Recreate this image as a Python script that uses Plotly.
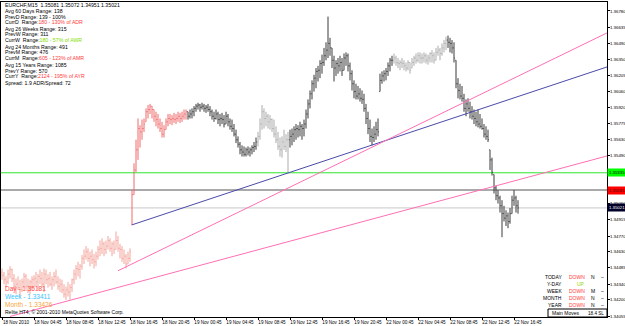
import plotly.graph_objects as go

# ---------------- data ----------------
header_text = "EURCHF,M15  1.35081 1.35072 1.34951 1.35021"

time_label_bars = [0, 16, 32, 48, 64, 80, 96, 112, 128, 144, 160, 176, 192, 208, 224, 240, 256]
time_labels = ["18 Nov 2010", "18 Nov 04:45", "18 Nov 08:45", "18 Nov 12:45", "18 Nov 16:45",
               "18 Nov 20:45", "19 Nov 00:45", "19 Nov 04:45", "19 Nov 08:45", "19 Nov 12:45",
               "19 Nov 16:45", "19 Nov 20:45", "22 Nov 00:45", "22 Nov 04:45", "22 Nov 08:45",
               "22 Nov 12:45", "22 Nov 16:45"]

price_ticks = [1.36780, 1.36635, 1.36490, 1.36350, 1.36205, 1.36060, 1.35920, 1.35775, 1.35630,
               1.35490, 1.35060, 1.34915, 1.34770, 1.34630, 1.34485, 1.34340,
               1.34200, 1.34055]

first_open = 1.3444
highs = [
    1.3448, 1.3445, 1.3441, 1.3447, 1.3450, 1.3448, 1.3443, 1.3439, 1.3441, 1.3438,
    1.3439, 1.3444, 1.3443, 1.3439, 1.3438, 1.3441, 1.3442, 1.3445, 1.3443, 1.3447,
    1.3445, 1.3448, 1.3447, 1.3443, 1.3445, 1.3441, 1.3445, 1.3447, 1.3441, 1.3439,
    1.3438, 1.3434, 1.3432, 1.3436, 1.3434, 1.3439, 1.3447, 1.3451, 1.3454, 1.3452,
    1.3460, 1.3465, 1.3468, 1.3466, 1.3463, 1.3465, 1.3461, 1.3463, 1.3468, 1.3473,
    1.3475, 1.3472, 1.3473, 1.3477, 1.3475, 1.3472, 1.3473, 1.3481, 1.3477, 1.3470,
    1.3468, 1.3465, 1.3461, 1.3463, 1.3466,
    1.3518, 1.3542, 1.3563, 1.3582, 1.3576, 1.3581, 1.3582, 1.3591, 1.3594, 1.3595,
    1.3593, 1.3590, 1.3588, 1.3586, 1.3582, 1.3579, 1.3576, 1.3582, 1.3586, 1.3586,
    1.3585, 1.3587, 1.3586, 1.3588, 1.3587, 1.3588, 1.3590, 1.3590,
    1.3588, 1.3590, 1.3591, 1.3593, 1.3595, 1.3596, 1.3595, 1.3596, 1.3595, 1.3594,
    1.3595, 1.3593, 1.3590, 1.3588, 1.3590, 1.3588, 1.3586, 1.3587, 1.3585, 1.3588,
    1.3586, 1.3582, 1.3581, 1.3577, 1.3572, 1.3566, 1.3561, 1.3558, 1.3557, 1.3556,
    1.3557, 1.3556, 1.3558, 1.3561, 1.3565, 1.3570, 1.3582, 1.3594, 1.3591, 1.3588,
    1.3586, 1.3585, 1.3582, 1.3581, 1.3575, 1.3570, 1.3565, 1.3566, 1.3572, 1.3568,
    1.3570, 1.3572, 1.3573, 1.3575, 1.3577, 1.3576, 1.3579, 1.3577, 1.3581, 1.3590,
    1.3599, 1.3607, 1.3616, 1.3621, 1.3627, 1.3629, 1.3634, 1.3639, 1.3645, 1.3650,
    1.3673, 1.3654, 1.3645, 1.3638, 1.3634, 1.3636, 1.3638, 1.3636, 1.3640, 1.3641,
    1.3640, 1.3632, 1.3625, 1.3616, 1.3613, 1.3611, 1.3609, 1.3607, 1.3604, 1.3595,
    1.3588, 1.3581, 1.3573, 1.3575, 1.3579, 1.3582,
    1.3622, 1.3624, 1.3625, 1.3627, 1.3632, 1.3636, 1.3638, 1.3640, 1.3638, 1.3636,
    1.3634, 1.3636, 1.3634, 1.3632, 1.3634, 1.3632, 1.3636, 1.3638, 1.3640, 1.3641,
    1.3641, 1.3640, 1.3641, 1.3640, 1.3639, 1.3641, 1.3643, 1.3641, 1.3645, 1.3647,
    1.3645, 1.3649, 1.3652, 1.3655, 1.3656, 1.3654, 1.3652, 1.3650, 1.3634, 1.3618,
    1.3613, 1.3611, 1.3604, 1.3599, 1.3600, 1.3597, 1.3593, 1.3590, 1.3588, 1.3590,
    1.3586, 1.3582, 1.3577, 1.3575, 1.3572, 1.3554, 1.3547, 1.3532, 1.3522, 1.3518,
    1.3513, 1.3509, 1.3504, 1.3500, 1.3498, 1.3502, 1.3513, 1.3518, 1.3513, 1.3509,
]
lows = [
    1.3438, 1.3434, 1.3431, 1.3434, 1.3439, 1.3436, 1.3429, 1.3425, 1.3429, 1.3423,
    1.3427, 1.3431, 1.3429, 1.3426, 1.3425, 1.3429, 1.3431, 1.3432, 1.3429, 1.3434,
    1.3431, 1.3427, 1.3434, 1.3431, 1.3432, 1.3429, 1.3432, 1.3434, 1.3429, 1.3427,
    1.3426, 1.3422, 1.3420, 1.3423, 1.3420, 1.3427, 1.3434, 1.3438, 1.3441, 1.3439,
    1.3447, 1.3452, 1.3456, 1.3454, 1.3450, 1.3452, 1.3448, 1.3450, 1.3456, 1.3459,
    1.3461, 1.3459, 1.3461, 1.3465, 1.3463, 1.3459, 1.3461, 1.3465, 1.3463, 1.3457,
    1.3454, 1.3452, 1.3448, 1.3452, 1.3454,
    1.3487, 1.3514, 1.3534, 1.3545, 1.3556, 1.3563, 1.3570, 1.3579, 1.3582, 1.3586,
    1.3582, 1.3579, 1.3575, 1.3573, 1.3570, 1.3565, 1.3565, 1.3572, 1.3575, 1.3577,
    1.3576, 1.3578, 1.3577, 1.3579, 1.3578, 1.3579, 1.3581, 1.3581,
    1.3581, 1.3582, 1.3582, 1.3584, 1.3588, 1.3590, 1.3588, 1.3590, 1.3588, 1.3587,
    1.3588, 1.3584, 1.3581, 1.3579, 1.3581, 1.3577, 1.3575, 1.3577, 1.3574, 1.3577,
    1.3575, 1.3572, 1.3570, 1.3566, 1.3560, 1.3556, 1.3550, 1.3548, 1.3548, 1.3548,
    1.3549, 1.3548, 1.3550, 1.3552, 1.3554, 1.3557, 1.3563, 1.3572, 1.3573, 1.3575,
    1.3573, 1.3572, 1.3570, 1.3565, 1.3560, 1.3554, 1.3548, 1.3547, 1.3554, 1.3552,
    1.3533, 1.3556, 1.3558, 1.3561, 1.3563, 1.3565, 1.3566, 1.3563, 1.3566, 1.3573,
    1.3582, 1.3591, 1.3599, 1.3606, 1.3609, 1.3615, 1.3618, 1.3622, 1.3629, 1.3634,
    1.3636, 1.3638, 1.3627, 1.3615, 1.3620, 1.3622, 1.3624, 1.3620, 1.3625, 1.3629,
    1.3624, 1.3616, 1.3607, 1.3600, 1.3599, 1.3599, 1.3597, 1.3595, 1.3588, 1.3577,
    1.3568, 1.3561, 1.3558, 1.3561, 1.3563, 1.3566,
    1.3606, 1.3613, 1.3615, 1.3616, 1.3620, 1.3624, 1.3629, 1.3631, 1.3629, 1.3627,
    1.3625, 1.3627, 1.3625, 1.3624, 1.3625, 1.3622, 1.3627, 1.3629, 1.3631, 1.3632,
    1.3631, 1.3631, 1.3632, 1.3631, 1.3630, 1.3632, 1.3632, 1.3631, 1.3634, 1.3638,
    1.3634, 1.3638, 1.3641, 1.3643, 1.3645, 1.3641, 1.3640, 1.3632, 1.3609, 1.3600,
    1.3599, 1.3597, 1.3588, 1.3584, 1.3588, 1.3582, 1.3581, 1.3577, 1.3575, 1.3574,
    1.3573, 1.3572, 1.3565, 1.3563, 1.3561, 1.3536, 1.3531, 1.3515, 1.3509, 1.3506,
    1.3498, 1.3476, 1.3490, 1.3486, 1.3484, 1.3488, 1.3497, 1.3504, 1.3498, 1.3497,
]
closes = [
    1.3442, 1.3438, 1.3436, 1.3443, 1.3447, 1.3439, 1.3432, 1.3434, 1.3431, 1.3429,
    1.3436, 1.3441, 1.3432, 1.3431, 1.3436, 1.3438, 1.3439, 1.3436, 1.3441, 1.3439,
    1.3434, 1.3443, 1.3438, 1.3439, 1.3434, 1.3438, 1.3441, 1.3436, 1.3432, 1.3434,
    1.3429, 1.3425, 1.3429, 1.3427, 1.3431, 1.3438, 1.3443, 1.3448, 1.3447, 1.3450,
    1.3457, 1.3459, 1.3463, 1.3457, 1.3459, 1.3456, 1.3454, 1.3459, 1.3465, 1.3466,
    1.3470, 1.3465, 1.3468, 1.3473, 1.3466, 1.3470, 1.3465, 1.3473, 1.3466, 1.3465,
    1.3457, 1.3459, 1.3452, 1.3457, 1.3463,
    1.3514, 1.3536, 1.3554, 1.3573, 1.3570, 1.3573, 1.3577, 1.3588, 1.3590, 1.3593,
    1.3590, 1.3584, 1.3581, 1.3577, 1.3573, 1.3568, 1.3572, 1.3579, 1.3582, 1.3581,
    1.3582, 1.3581, 1.3582, 1.3584, 1.3582, 1.3584, 1.3586, 1.3588,
    1.3584, 1.3586, 1.3588, 1.3591, 1.3593, 1.3594, 1.3592, 1.3593, 1.3591, 1.3592,
    1.3590, 1.3588, 1.3584, 1.3582, 1.3586, 1.3581, 1.3582, 1.3581, 1.3577, 1.3584,
    1.3579, 1.3575, 1.3573, 1.3568, 1.3563, 1.3559, 1.3554, 1.3552, 1.3550, 1.3554,
    1.3552, 1.3554, 1.3556, 1.3557, 1.3561, 1.3566, 1.3577, 1.3588, 1.3582, 1.3584,
    1.3579, 1.3581, 1.3573, 1.3568, 1.3563, 1.3557, 1.3554, 1.3561, 1.3557, 1.3563,
    1.3563, 1.3566, 1.3568, 1.3572, 1.3573, 1.3572, 1.3575, 1.3573, 1.3577, 1.3586,
    1.3595, 1.3604, 1.3613, 1.3618, 1.3624, 1.3625, 1.3631, 1.3632, 1.3638, 1.3643,
    1.3649, 1.3645, 1.3634, 1.3627, 1.3631, 1.3629, 1.3632, 1.3625, 1.3636, 1.3638,
    1.3629, 1.3622, 1.3613, 1.3606, 1.3602, 1.3604, 1.3600, 1.3599, 1.3591, 1.3582,
    1.3573, 1.3566, 1.3565, 1.3568, 1.3572, 1.3570,
    1.3616, 1.3620, 1.3622, 1.3624, 1.3629, 1.3634, 1.3634, 1.3636, 1.3632, 1.3631,
    1.3632, 1.3631, 1.3629, 1.3627, 1.3632, 1.3625, 1.3632, 1.3636, 1.3634, 1.3638,
    1.3636, 1.3636, 1.3638, 1.3634, 1.3636, 1.3640, 1.3638, 1.3634, 1.3641, 1.3643,
    1.3640, 1.3645, 1.3649, 1.3652, 1.3650, 1.3649, 1.3645, 1.3636, 1.3613, 1.3607,
    1.3602, 1.3600, 1.3591, 1.3595, 1.3591, 1.3588, 1.3584, 1.3582, 1.3579, 1.3577,
    1.3575, 1.3573, 1.3568, 1.3566, 1.3563, 1.3545, 1.3534, 1.3520, 1.3513, 1.3511,
    1.3504, 1.3497, 1.3493, 1.3495, 1.3490, 1.3497, 1.3509, 1.3511, 1.3504, 1.35021,
]

# horizontal levels
level_green = 1.35335
day_open = 1.35181
week_open = 1.33411
month_open = 1.33426
bid_price = 1.35021

# trend lines (bar index, price)
blue_x, blue_y = [65, 302.5], [1.3487, 1.36280]
pink1_x, pink1_y = [58, 302.5], [1.3446, 1.36584]
pink2_x, pink2_y = [4, 302.5], [1.34052, 1.35485]

info_lines = [
    ("Avg 60 Days Range: 138", "", None),
    ("PrevD Range: 139 - 100%", "", None),
    ("CurrD  Range:", "180 - 130% of ADR", "red"),
    ("Avg 26 Weeks Range: 315", "", None),
    ("PrevW Range: 311", "", None),
    ("CurrW  Range:", "180 - 57% of AWR", "green"),
    ("Avg 24 Months Range: 491", "", None),
    ("PrevM Range: 476", "", None),
    ("CurrM  Range:", "605 - 123% of AMR", "red"),
    ("Avg 15 Years Range: 1085", "", None),
    ("PrevY Range: 570", "", None),
    ("CurrY  Range:", "2124 - 195% of AYR", "red"),
    ("Spread: 1.9 ADR/Spread: 72", "", None),
]
move_rows = ["TODAY", "Y-DAY", "WEEK", "MONTH", "YEAR"]
move_dirs = ["DOWN", "UP", "DOWN", "DOWN", "DOWN"]
move_strength = ["N", "", "M", "N", "N"]
move_marks = ["–", "", "–", "–", "–"]
main_moves_label = "Main Moves"
main_moves_value = "18.4 SL"
copyright_text = "Relite HT4, © 2001-2010 MetaQuotes Software Corp."

# ---------------- layout helpers ----------------
W, H = 625, 326
ML, MR, MT, MB = 1, 18, 2, 9
PW, PH = W - ML - MR, H - MT - MB
FONT = "Liberation Sans, Arial, sans-serif"


def xp(px):
    return (px - ML) / PW


def yp(py):
    return 1 - (py - MT) / PH


COL = {"red": "#ff3b3b", "green": "#7fe000", "black": "#000000"}

n = min(len(highs), len(lows), len(closes))
bars = list(range(n))
opens = []
prev = first_open
for i in range(n):
    opens.append(min(max(prev, lows[i]), highs[i]))
    prev = closes[i]

salmon = set(range(0, 65))
redset = set(range(65, 93))
light = set(range(128, 144)) | set(range(196, 223))
dark = set(bars) - salmon - redset - light
groups = [("#f3a39b", salmon), ("#ee6a6a", redset), ("#ababab", light), ("#3a3a3a", dark)]

fig = go.Figure()

# horizontal lines below bars
for lvl, colr in [(level_green, "#2ee82e"), (day_open, "#555555"), (bid_price, "#c8c8c8")]:
    fig.add_shape(type="line", xref="paper", x0=0, x1=1, yref="y", y0=lvl, y1=lvl,
                  line=dict(color=colr, width=1), layer="below")

for colr, idxset in groups:
    idx = sorted(i for i in idxset if i < n)
    fig.add_trace(go.Ohlc(
        x=[bars[i] for i in idx], open=[opens[i] for i in idx], high=[highs[i] for i in idx],
        low=[lows[i] for i in idx], close=[closes[i] for i in idx],
        increasing=dict(line=dict(color=colr, width=1)),
        decreasing=dict(line=dict(color=colr, width=1)),
        tickwidth=0.35, hoverinfo="skip", showlegend=False))

for tx, ty, colr in [(blue_x, blue_y, "#4a4aa8"), (pink1_x, pink1_y, "#ff6fb5"),
                     (pink2_x, pink2_y, "#ff6fb5")]:
    fig.add_trace(go.Scatter(x=tx, y=ty, mode="lines", line=dict(color=colr, width=1),
                             hoverinfo="skip", showlegend=False))

ann = []
# header + info text
ann.append(dict(x=xp(3), y=yp(5), text=header_text))
info_y = [11, 16.5, 22, 29, 34.5, 40, 47, 52.5, 58, 65, 70.5, 76, 83]
for (blk, colored, ck), py in zip(info_lines, info_y):
    t = blk
    if colored:
        t += f"<span style='color:{COL[ck]}'>{colored}</span>"
    ann.append(dict(x=xp(3), y=yp(py), text=t))
for a in ann:
    a.update(xref="paper", yref="paper", xanchor="left", yanchor="middle", showarrow=False,
             font=dict(family=FONT, size=5.2, color="black"))

# Day / Week / Month
for txt, py, colr, in [(f"Day - {day_open:.5f}", 289, "#ff4a4a"),
                       (f"Week - {week_open:.5f}", 296.5, "#37c3ff"),
                       (f"Month - {month_open:.5f}", 304, "#f7a541")]:
    ann.append(dict(x=xp(3), y=yp(py), text=txt, xref="paper", yref="paper", xanchor="left",
                    yanchor="middle", showarrow=False, font=dict(family=FONT, size=6.5, color=colr)))
ann.append(dict(x=xp(3), y=yp(312), text=copyright_text, xref="paper", yref="paper",
                xanchor="left", yanchor="middle", showarrow=False,
                font=dict(family=FONT, size=5, color="black")))

# moves table
row_y = [277, 284, 291, 298, 305]
for name, d, s, m, py in zip(move_rows, move_dirs, move_strength, move_marks, row_y):
    base = dict(xref="paper", yref="paper", yanchor="middle", showarrow=False, y=yp(py))
    ann.append(dict(base, x=xp(564), xanchor="right", text=name,
                    font=dict(family=FONT, size=5, color="black")))
    ann.append(dict(base, x=xp(567 if d == "DOWN" else 575), xanchor="left", text=d,
                    font=dict(family=FONT, size=5, color=COL["red"] if d == "DOWN" else "#9ad400")))
    if s:
        ann.append(dict(base, x=xp(589), xanchor="left", text=s,
                        font=dict(family=FONT, size=5, color="black")))
    if m:
        ann.append(dict(base, x=xp(599), xanchor="left", text=m,
                        font=dict(family=FONT, size=5, color="black")))
ann.append(dict(x=xp(550), y=yp(313), text=main_moves_label, xref="paper", yref="paper",
                xanchor="left", yanchor="middle", showarrow=False,
                font=dict(family=FONT, size=5, color="black")))
ann.append(dict(x=xp(586), y=yp(313), text=main_moves_value, xref="paper", yref="paper",
                xanchor="left", yanchor="middle", showarrow=False,
                font=dict(family=FONT, size=4.6, color="black")))
fig.add_shape(type="rect", xref="paper", yref="paper", x0=xp(548), x1=xp(607), y0=yp(317),
              y1=yp(309), line=dict(color="black", width=1))

# price boxes on the axis
for lvl, bg, fg in [(level_green, "#00ff00", "black"), (day_open, "#ff0000", "#400000"),
                    (bid_price, "#000028", "white")]:
    ann.append(dict(x=xp(607), y=lvl, xref="paper", yref="y", xanchor="left", yanchor="middle",
                    text=f"{lvl:.5f}", showarrow=False, bgcolor=bg, borderpad=1,
                    font=dict(family=FONT, size=4.3, color=fg)))

fig.update_layout(
    width=W, height=H, margin=dict(l=ML, r=MR, t=MT, b=MB, autoexpand=False),
    paper_bgcolor="white", plot_bgcolor="white", showlegend=False,
    annotations=ann,
    xaxis=dict(range=[-0.5, 302.5], tickvals=time_label_bars, ticktext=time_labels,
               ticks="outside", ticklen=2, tickcolor="black", showline=True, linecolor="black",
               linewidth=1, mirror=True, showgrid=False, zeroline=False, rangeslider=dict(visible=False),
               tickfont=dict(family=FONT, size=4.6, color="black"), ticklabelshift=14,
               ticklabelstandoff=-2, fixedrange=True),
    yaxis=dict(range=[1.34047, 1.36860], side="right", tickvals=price_ticks,
               ticktext=[f"{v:.5f}" for v in price_ticks], ticks="outside", ticklen=2,
               tickcolor="black", showline=True, linecolor="black", linewidth=1, mirror=True,
               showgrid=False, zeroline=False, tickfont=dict(family=FONT, size=4.4, color="black"),
               ticklabelstandoff=-1, fixedrange=True),
)

fig.write_html("out.html")
